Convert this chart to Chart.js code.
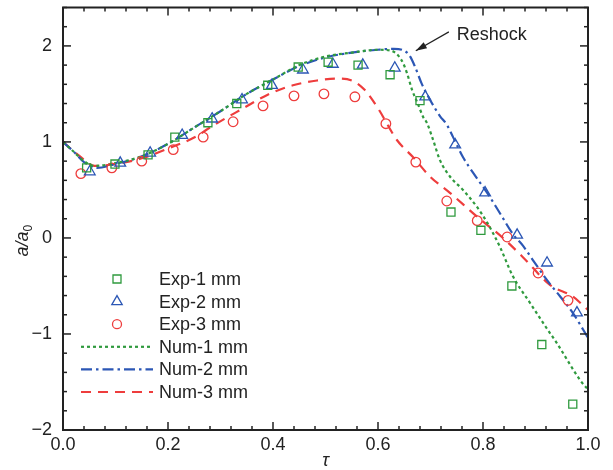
<!DOCTYPE html>
<html>
<head>
<meta charset="utf-8">
<script src="https://cdn.jsdelivr.net/npm/chart.js@4"></script>
<style>
html, body { margin: 0; padding: 0; background: #fff; }
</style>
</head>
<body>
<canvas id="chart" width="613" height="470"></canvas>
<script>
// experimental points
var exp1Tau = [0.045, 0.099, 0.162, 0.213, 0.276, 0.331, 0.390, 0.448, 0.505, 0.562, 0.623, 0.680, 0.739, 0.796, 0.855, 0.912, 0.971];
var exp1A   = [0.73, 0.77, 0.865, 1.05, 1.20, 1.40, 1.59, 1.78, 1.83, 1.80, 1.70, 1.43, 0.27, 0.08, -0.50, -1.11, -1.73];
var exp2Tau = [0.051, 0.109, 0.166, 0.227, 0.284, 0.341, 0.398, 0.457, 0.514, 0.571, 0.632, 0.690, 0.747, 0.804, 0.865, 0.922, 0.979];
var exp2A   = [0.69, 0.78, 0.885, 1.07, 1.24, 1.44, 1.59, 1.75, 1.81, 1.80, 1.77, 1.47, 0.97, 0.47, 0.03, -0.26, -0.78];
var exp3Tau = [0.034, 0.093, 0.150, 0.210, 0.267, 0.324, 0.381, 0.440, 0.497, 0.556, 0.615, 0.672, 0.731, 0.789, 0.846, 0.905, 0.962];
var exp3A   = [0.67, 0.73, 0.80, 0.92, 1.05, 1.21, 1.375, 1.48, 1.50, 1.47, 1.19, 0.79, 0.385, 0.18, 0.01, -0.365, -0.65];

// numerical curves
var num1Tau = [0, 0.02, 0.04, 0.06, 0.1, 0.15, 0.2, 0.25, 0.3, 0.35, 0.4, 0.45, 0.5, 0.55, 0.6, 0.625, 0.645, 0.655, 0.665, 0.675, 0.686, 0.693, 0.705, 0.718, 0.737, 0.762, 0.789, 0.808, 0.832, 0.857, 0.89, 0.92, 0.94, 0.985, 1.0];
var num1A   = [1.0, 0.9, 0.8, 0.75, 0.78, 0.85, 0.98, 1.15, 1.32, 1.50, 1.65, 1.80, 1.89, 1.93, 1.96, 1.95, 1.85, 1.72, 1.54, 1.41, 1.26, 1.20, 1.02, 0.81, 0.64, 0.50, 0.32, 0.16, -0.09, -0.40, -0.68, -0.93, -1.09, -1.48, -1.58];
var num2Tau = [0, 0.02, 0.04, 0.065, 0.1, 0.15, 0.2, 0.25, 0.3, 0.35, 0.4, 0.45, 0.5, 0.55, 0.6, 0.63, 0.65, 0.66, 0.67, 0.683, 0.699, 0.718, 0.731, 0.743, 0.762, 0.781, 0.808, 0.832, 0.857, 0.876, 0.895, 0.922, 0.947, 0.971, 1.0];
var num2A   = [1.0, 0.9, 0.79, 0.73, 0.77, 0.85, 0.98, 1.15, 1.32, 1.50, 1.65, 1.79, 1.88, 1.93, 1.96, 1.97, 1.95, 1.90, 1.79, 1.61, 1.44, 1.27, 1.18, 1.05, 0.84, 0.68, 0.47, 0.26, 0.04, -0.08, -0.23, -0.44, -0.61, -0.78, -1.04];
var num3Tau = [0, 0.03, 0.06, 0.1, 0.15, 0.204, 0.255, 0.274, 0.343, 0.389, 0.438, 0.484, 0.52, 0.55, 0.575, 0.6, 0.636, 0.667, 0.699, 0.737, 0.789, 0.838, 0.876, 0.928, 0.971, 1.0];
var num3A   = [1.0, 0.86, 0.75, 0.77, 0.83, 0.94, 1.06, 1.13, 1.35, 1.49, 1.59, 1.64, 1.66, 1.64, 1.54, 1.35, 1.02, 0.84, 0.64, 0.47, 0.22, 0.0, -0.2, -0.49, -0.61, -0.75];

var xTicks = [0, 0.2, 0.4, 0.6, 0.8, 1.0];
var yTicks = [-2, -1, 0, 1, 2];

var green = '#2f9a3e', blue = '#2c57b5', red = '#ee3d3d';
var font = '"Liberation Sans", Arial, sans-serif';

function pts(xs, ys) { return xs.map((v, i) => ({x: v, y: ys[i]})); }

function line(ctx, x0, y0, x1, y1) {
  ctx.beginPath(); ctx.moveTo(x0, y0); ctx.lineTo(x1, y1); ctx.stroke();
}

function marker(ctx, style, cx, cy, color) {
  ctx.save();
  ctx.strokeStyle = color; ctx.lineWidth = 1.3; ctx.setLineDash([]);
  ctx.beginPath();
  if (style === 'rect') ctx.rect(cx - 4, cy - 4, 8, 8);
  else if (style === 'triangle') {
    ctx.moveTo(cx, cy - 6); ctx.lineTo(cx + 5.2, cy + 3); ctx.lineTo(cx - 5.2, cy + 3); ctx.closePath();
  } else ctx.arc(cx, cy, 4.5, 0, Math.PI * 2);
  ctx.stroke();
  ctx.restore();
}

var decor = {
  id: 'decor',
  afterDraw(chart) {
    var ctx = chart.ctx, a = chart.chartArea, x = chart.scales.x, y = chart.scales.y;
    ctx.save();
    ctx.strokeStyle = '#222'; ctx.lineWidth = 1.5;
    for (var i = 0; i <= 25; i++) {
      var px = x.getPixelForValue(i * 0.04), len = i % 5 === 0 ? 8 : 4;
      line(ctx, px, a.bottom, px, a.bottom - len);
      line(ctx, px, a.top, px, a.top + len);
    }
    for (var j = 0; j <= 22; j++) {
      var py = y.getPixelForValue(-2 + j * 0.2), l2 = j % 5 === 0 ? 8 : 4;
      line(ctx, a.left, py, a.left + l2, py);
      line(ctx, a.right, py, a.right - l2, py);
    }
    ctx.lineWidth = 2;
    ctx.strokeRect(a.left, a.top, a.right - a.left, a.bottom - a.top);

    // axis titles
    ctx.fillStyle = '#222';
    ctx.font = 'italic 18px ' + font;
    ctx.textAlign = 'center'; ctx.textBaseline = 'middle';
    ctx.fillText('\u03c4', (a.left + a.right) / 2, 461);
    ctx.save();
    ctx.translate(22, y.getPixelForValue(0) + 2);
    ctx.rotate(-Math.PI / 2);
    ctx.textAlign = 'left'; ctx.textBaseline = 'alphabetic';
    var w = ctx.measureText('a/a').width;
    ctx.fillText('a/a', -w / 2 - 4, 6);
    ctx.font = '12px ' + font;
    ctx.fillText('0', w / 2 - 4, 10);
    ctx.restore();

    // reshock annotation
    var tx = x.getPixelForValue(0.672), ty = y.getPixelForValue(1.95);
    var sx = x.getPixelForValue(0.735), sy = y.getPixelForValue(2.146);
    ctx.strokeStyle = '#222'; ctx.lineWidth = 1.2;
    line(ctx, sx, sy, tx, ty);
    var ang = Math.atan2(ty - sy, tx - sx);
    ctx.fillStyle = '#222';
    ctx.beginPath();
    ctx.moveTo(tx, ty);
    ctx.lineTo(tx - 11 * Math.cos(ang) + 3.5 * Math.sin(ang), ty - 11 * Math.sin(ang) - 3.5 * Math.cos(ang));
    ctx.lineTo(tx - 11 * Math.cos(ang) - 3.5 * Math.sin(ang), ty - 11 * Math.sin(ang) + 3.5 * Math.cos(ang));
    ctx.closePath(); ctx.fill();
    ctx.font = '18px ' + font;
    ctx.textAlign = 'left'; ctx.textBaseline = 'middle';
    ctx.fillText('Reshock', x.getPixelForValue(0.75), y.getPixelForValue(2.11));

    // legend
    var ds = chart.data.datasets;
    var rowY = 279;
    ctx.font = '18px ' + font;
    ds.forEach(function (d, k) {
      var cy = rowY + k * 22.6;
      if (d.showLine) {
        ctx.save();
        ctx.strokeStyle = d.borderColor; ctx.lineWidth = d.borderWidth;
        ctx.setLineDash(d.borderDash);
        line(ctx, a.left + 18, cy, a.left + 90, cy);
        ctx.restore();
      } else {
        marker(ctx, d.pointStyle, a.left + 54, cy, d.borderColor);
      }
      ctx.fillStyle = '#222';
      ctx.fillText(d.label, a.left + 96, cy + 1);
    });
    ctx.restore();
  }
};

function expSet(label, xs, ys, style, color, r) {
  return { label: label, data: pts(xs, ys), showLine: false, pointStyle: style,
    pointRadius: r, pointHoverRadius: r, borderColor: color, pointBorderWidth: 1.3,
    backgroundColor: 'rgba(0,0,0,0)', order: 0 };
}
function numSet(label, xs, ys, color, dash) {
  return { label: label, data: pts(xs, ys), showLine: true, pointRadius: 0,
    borderColor: color, borderWidth: 2.2, borderDash: dash,
    cubicInterpolationMode: 'monotone', order: 1 };
}

new Chart(document.getElementById('chart').getContext('2d'), {
  type: 'scatter',
  data: {
    datasets: [
      expSet('Exp-1 mm', exp1Tau, exp1A, 'rect', green, 5.7),
      expSet('Exp-2 mm', exp2Tau, exp2A, 'triangle', blue, 6.2),
      expSet('Exp-3 mm', exp3Tau, exp3A, 'circle', red, 4.8),
      numSet('Num-1 mm', num1Tau, num1A, green, [3, 3]),
      numSet('Num-2 mm', num2Tau, num2A, blue, [11, 4, 2.5, 4]),
      numSet('Num-3 mm', num3Tau, num3A, red, [10, 7])
    ]
  },
  options: {
    responsive: false,
    animation: false,
    layout: { padding: { left: 0, top: 7, right: 25, bottom: 0 } },
    plugins: { legend: { display: false }, tooltip: { enabled: false } },
    scales: {
      x: {
        type: 'linear', min: 0, max: 1,
        grid: { display: false, drawTicks: false }, border: { display: false },
        afterBuildTicks: s => { s.ticks = xTicks.map(v => ({value: v})); },
        afterFit: s => { s.height = 40; s.paddingLeft = 0; s.paddingRight = 0; },
        ticks: { padding: 4, color: '#222', font: { family: font, size: 18 },
          callback: v => v.toFixed(1) }
      },
      y: {
        type: 'linear', min: -2, max: 2.4,
        grid: { display: false, drawTicks: false }, border: { display: false },
        afterBuildTicks: s => { s.ticks = yTicks.map(v => ({value: v})); },
        afterFit: s => { s.width = 63; s.paddingTop = 0; s.paddingBottom = 0; },
        ticks: { padding: 11, color: '#222', font: { family: font, size: 18 },
          callback: v => v < 0 ? '\u2212' + Math.abs(v) : String(v) }
      }
    }
  },
  plugins: [decor]
});
</script>
</body>
</html>
